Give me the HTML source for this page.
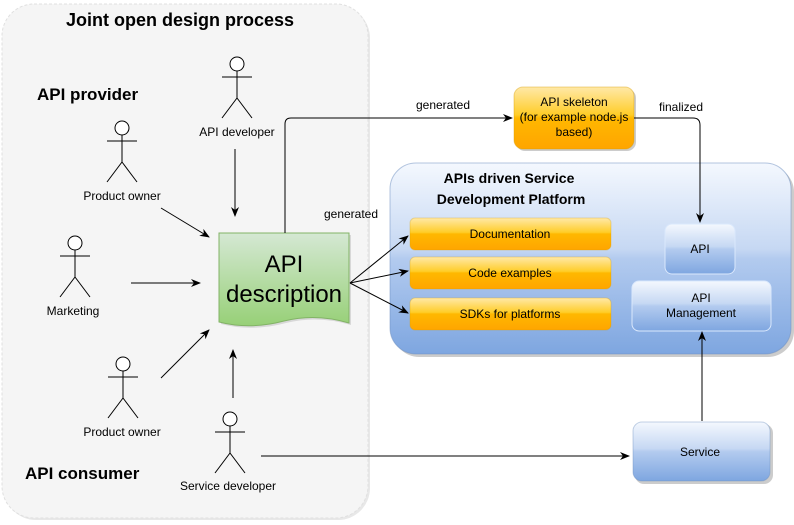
<!DOCTYPE html>
<html><head><meta charset="utf-8">
<style>
html,body{margin:0;padding:0;background:#fff;}
svg{display:block;font-family:"Liberation Sans",Arial,sans-serif;}
</style></head>
<body>
<svg width="794" height="525" viewBox="0 0 794 525" xmlns="http://www.w3.org/2000/svg">
<defs>
<marker id="ar" markerWidth="10" markerHeight="10" refX="9" refY="5" orient="auto" markerUnits="userSpaceOnUse">
<path d="M0,1 L10,5 L0,9 L3,5 Z" fill="#000"/>
</marker>
<linearGradient id="gr" x1="0" y1="0" x2="0" y2="1">
<stop offset="0" stop-color="#d5e8d4"/><stop offset="1" stop-color="#97d077"/>
</linearGradient>
<linearGradient id="or" x1="0" y1="0" x2="0" y2="1">
<stop offset="0" stop-color="#ffe9a8"/><stop offset="0.45" stop-color="#ffcd28"/><stop offset="0.5" stop-color="#ffb800"/><stop offset="1" stop-color="#ffa500"/>
</linearGradient>
<linearGradient id="bl" x1="0" y1="0" x2="0" y2="1">
<stop offset="0" stop-color="#f4f8fe"/><stop offset="0.45" stop-color="#c6d8f3"/><stop offset="0.5" stop-color="#b3cbef"/><stop offset="1" stop-color="#7ea6e0"/>
</linearGradient>
<g id="actor" fill="none" stroke="#000" stroke-width="1">
<circle cx="0" cy="0" r="7" fill="#fff"/>
<line x1="0" y1="7" x2="0" y2="34"/>
<line x1="-15" y1="13" x2="15" y2="13"/>
<line x1="0" y1="34" x2="-15" y2="54"/>
<line x1="0" y1="34" x2="15" y2="54"/>
</g>
</defs>

<rect x="4" y="6" width="366" height="514" rx="32" fill="#e8e8e8"/>
<rect x="2" y="4" width="366" height="514" rx="32" fill="#f5f5f5" stroke="#e0e0e0" stroke-dasharray="3,2"/>
<text x="180" y="26" font-size="18" font-weight="bold" text-anchor="middle">Joint open design process</text>
<text x="37" y="100" font-size="17" font-weight="bold">API provider</text>
<text x="25" y="479" font-size="17" font-weight="bold">API consumer</text>

<g font-size="12" text-anchor="middle">
<use href="#actor" x="237" y="64"/>
<text x="237" y="136">API developer</text>
<use href="#actor" x="122" y="128"/>
<text x="122" y="200">Product owner</text>
<use href="#actor" x="75" y="243"/>
<text x="73" y="315">Marketing</text>
<use href="#actor" x="123" y="364"/>
<text x="122" y="436">Product owner</text>
<use href="#actor" x="230" y="419"/>
<text x="228" y="490">Service developer</text>
</g>

<g stroke="#000" stroke-width="1" fill="none">
<line x1="235" y1="149" x2="235" y2="216" marker-end="url(#ar)"/>
<line x1="161" y1="208" x2="209" y2="237" marker-end="url(#ar)"/>
<line x1="131" y1="283" x2="200" y2="283" marker-end="url(#ar)"/>
<line x1="161" y1="378" x2="209" y2="330" marker-end="url(#ar)"/>
<line x1="233" y1="398" x2="233" y2="350" marker-end="url(#ar)"/>
</g>

<path d="M221,235 H351 V325 Q318,315 286,323 Q252,332 221,324 Z" fill="#bbb" opacity="0.5"/>
<path d="M219,233 H349 V323 Q316,313 284,321 Q250,330 219,322 Z" fill="url(#gr)" stroke="#82b366"/>
<text x="284" y="272" font-size="24" text-anchor="middle">API</text>
<text x="284" y="302" font-size="24" text-anchor="middle">description</text>

<path d="M285,233 V124 Q285,118 291,118 H512" fill="none" stroke="#000" marker-end="url(#ar)"/>
<text x="443" y="109" font-size="12" text-anchor="middle">generated</text>

<rect x="516" y="89" width="120" height="62" rx="9" fill="#ccc"/>
<rect x="514" y="87" width="120" height="62" rx="9" fill="url(#or)" stroke="#d79b00" stroke-opacity="0.4"/>
<g font-size="12" text-anchor="middle">
<text x="574" y="106">API skeleton</text>
<text x="574" y="121">(for example node.js</text>
<text x="574" y="136">based)</text>
</g>

<rect x="393" y="166" width="401" height="191" rx="26" fill="#ccc"/>
<rect x="390" y="163" width="401" height="191" rx="26" fill="url(#bl)" stroke="#6c8ebf" stroke-opacity="0.5"/>
<text x="509" y="183" font-size="14" font-weight="bold" text-anchor="middle">APIs driven Service</text>
<text x="511" y="204" font-size="14" font-weight="bold" text-anchor="middle">Development Platform</text>

<g font-size="12" text-anchor="middle">
<rect x="410" y="218" width="201" height="32" rx="5" fill="url(#or)" stroke="#d79b00" stroke-opacity="0.3"/>
<text x="510" y="238">Documentation</text>
<rect x="410" y="257" width="201" height="32" rx="5" fill="url(#or)" stroke="#d79b00" stroke-opacity="0.3"/>
<text x="510" y="277">Code examples</text>
<rect x="410" y="298" width="201" height="32" rx="5" fill="url(#or)" stroke="#d79b00" stroke-opacity="0.3"/>
<text x="510" y="318">SDKs for platforms</text>

<rect x="665" y="224" width="70" height="50" rx="7" fill="url(#bl)" stroke="#dae8fc"/>
<text x="700" y="253">API</text>
<rect x="632" y="281" width="139" height="50" rx="7" fill="url(#bl)" stroke="#dae8fc"/>
<text x="701" y="302">API</text>
<text x="701" y="317">Management</text>
</g>

<path d="M634,118 H693 Q700,118 700,125 V222" fill="none" stroke="#000" marker-end="url(#ar)"/>
<text x="681" y="111" font-size="12" text-anchor="middle">finalized</text>

<g stroke="#000" fill="none">
<line x1="350" y1="283" x2="408" y2="236" marker-end="url(#ar)"/>
<line x1="350" y1="283" x2="408" y2="271" marker-end="url(#ar)"/>
<line x1="350" y1="283" x2="408" y2="313" marker-end="url(#ar)"/>
</g>
<text x="351" y="218" font-size="12" text-anchor="middle">generated</text>

<rect x="635" y="424" width="138" height="60" rx="9" fill="#ccc"/>
<rect x="633" y="422" width="137" height="59" rx="9" fill="url(#bl)" stroke="#6c8ebf" stroke-opacity="0.4"/>
<text x="700" y="456" font-size="12" text-anchor="middle">Service</text>
<line x1="702" y1="421" x2="702" y2="332" stroke="#000" marker-end="url(#ar)"/>
<line x1="261" y1="456" x2="629" y2="456" stroke="#000" marker-end="url(#ar)"/>
</svg>
</body></html>
